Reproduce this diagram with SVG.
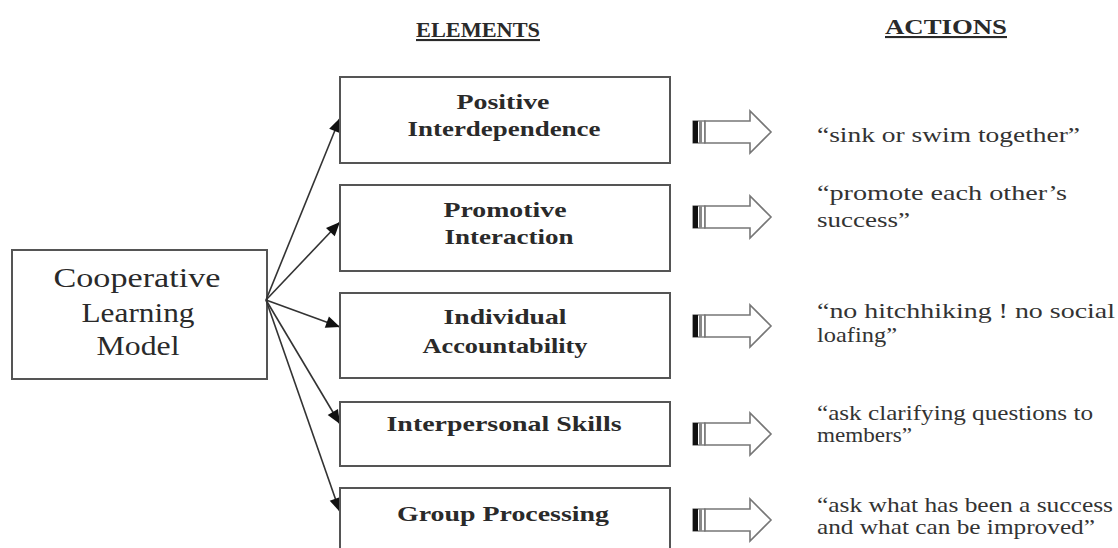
<svg xmlns="http://www.w3.org/2000/svg" width="1118" height="548" viewBox="0 0 1118 548">
<style>
.box{fill:#fff;stroke:#555;stroke-width:2}
.lt{font-family:"Liberation Serif","Times New Roman",serif;font-size:27px;fill:#2a2a2a;text-anchor:middle}
.el{font-family:"Liberation Serif","Times New Roman",serif;font-size:21px;font-weight:bold;fill:#2a2a2a;text-anchor:middle}
.hd{font-family:"Liberation Serif","Times New Roman",serif;font-size:21px;font-weight:bold;fill:#2a2a2a;text-decoration:underline}
.ac{font-family:"Liberation Serif","Times New Roman",serif;font-size:21px;fill:#333}
.con{stroke:#333;stroke-width:1.6;fill:none}
.ba{fill:#fff;stroke:#777;stroke-width:1.6}
</style>
<defs>
<marker id="ah" viewBox="0 0 14 12" refX="14" refY="6" markerWidth="14" markerHeight="12" markerUnits="userSpaceOnUse" orient="auto" overflow="visible">
<path d="M0,0 L14,6 L0,12 Z" fill="#111"/>
</marker>
<g id="blk">
<rect x="693" y="-11" width="12" height="22" fill="#fff" stroke="#444" stroke-width="1"/>
<rect x="693" y="-11" width="5" height="22" fill="#111"/>
<rect x="699" y="-11" width="3" height="22" fill="#888"/>
<path class="ba" d="M705,-11 H750 V-21 L771,0 L750,21 V11 H705 Z"/>
</g>
</defs>

<text class="hd" x="416" y="37" textLength="124" lengthAdjust="spacingAndGlyphs">ELEMENTS</text>
<text class="hd" x="885" y="34" textLength="122" lengthAdjust="spacingAndGlyphs">ACTIONS</text>

<g id="clm">
<rect class="box" x="12" y="250" width="255" height="129"/>
<text class="lt" x="137" y="287" textLength="167" lengthAdjust="spacingAndGlyphs">Cooperative</text>
<text class="lt" x="138" y="322" textLength="113" lengthAdjust="spacingAndGlyphs">Learning</text>
<text class="lt" x="138" y="355" textLength="83" lengthAdjust="spacingAndGlyphs">Model</text>
</g>

<g id="connectors">
<line class="con" x1="266" y1="300" x2="340" y2="118" marker-end="url(#ah)"/>
<line class="con" x1="266" y1="300" x2="340" y2="222" marker-end="url(#ah)"/>
<line class="con" x1="266" y1="300" x2="340" y2="327" marker-end="url(#ah)"/>
<line class="con" x1="266" y1="300" x2="340" y2="424" marker-end="url(#ah)"/>
<line class="con" x1="266" y1="300" x2="340" y2="512" marker-end="url(#ah)"/>
<use href="#blk" y="132"/>
<use href="#blk" y="217"/>
<use href="#blk" y="326"/>
<use href="#blk" y="434"/>
<use href="#blk" y="520"/>
</g>

<g id="e1">
<rect class="box" x="340" y="77" width="330" height="86"/>
<text class="el" x="503" y="109" textLength="93" lengthAdjust="spacingAndGlyphs">Positive</text>
<text class="el" x="504" y="136" textLength="193" lengthAdjust="spacingAndGlyphs">Interdependence</text>
</g>
<g id="e2">
<rect class="box" x="340" y="185" width="330" height="86"/>
<text class="el" x="505" y="217" textLength="123" lengthAdjust="spacingAndGlyphs">Promotive</text>
<text class="el" x="509" y="244" textLength="129" lengthAdjust="spacingAndGlyphs">Interaction</text>
</g>
<g id="e3">
<rect class="box" x="340" y="293" width="330" height="85"/>
<text class="el" x="505" y="324" textLength="123" lengthAdjust="spacingAndGlyphs">Individual</text>
<text class="el" x="505" y="353" textLength="165" lengthAdjust="spacingAndGlyphs">Accountability</text>
</g>
<g id="e4">
<rect class="box" x="340" y="402" width="330" height="64"/>
<text class="el" x="504" y="431" textLength="235" lengthAdjust="spacingAndGlyphs">Interpersonal Skills</text>
</g>
<g id="e5">
<rect class="box" x="340" y="488" width="330" height="70"/>
<text class="el" x="503" y="521" textLength="212" lengthAdjust="spacingAndGlyphs">Group Processing</text>
</g>

<g id="actions">
<text class="ac" x="817" y="142" textLength="263" lengthAdjust="spacingAndGlyphs">“sink or swim together”</text>
<text class="ac" x="817" y="200" textLength="250" lengthAdjust="spacingAndGlyphs">“promote each other’s</text>
<text class="ac" x="817" y="227" textLength="93" lengthAdjust="spacingAndGlyphs">success”</text>
<text class="ac" x="817" y="318" textLength="298" lengthAdjust="spacingAndGlyphs">“no hitchhiking ! no social</text>
<text class="ac" x="817" y="342" textLength="80" lengthAdjust="spacingAndGlyphs">loafing”</text>
<text class="ac" x="817" y="420" textLength="276" lengthAdjust="spacingAndGlyphs">“ask clarifying questions to</text>
<text class="ac" x="817" y="442" textLength="95" lengthAdjust="spacingAndGlyphs">members”</text>
<text class="ac" x="817" y="512" textLength="296" lengthAdjust="spacingAndGlyphs">“ask what has been a success</text>
<text class="ac" x="817" y="534" textLength="278" lengthAdjust="spacingAndGlyphs">and what can be improved”</text>
</g>
</svg>
